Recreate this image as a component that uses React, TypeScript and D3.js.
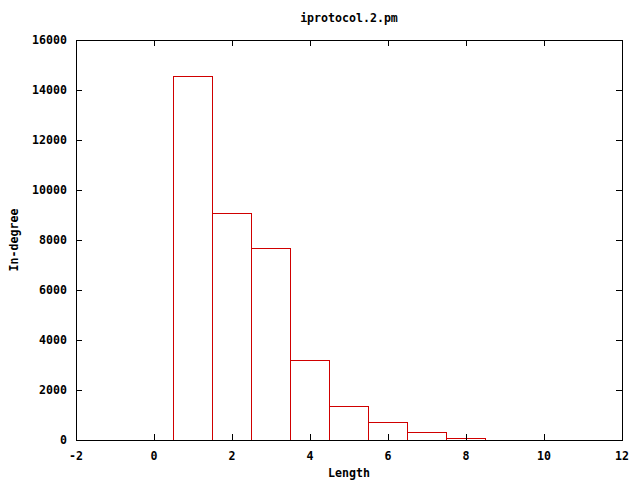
import React, { useEffect, useRef } from "react";
import * as d3 from "d3";

const lengths = [1, 2, 3, 4, 5, 6, 7, 8];
const inDegree = [14550, 9080, 7660, 3200, 1350, 690, 290, 80];
const xTicks = [-2, 0, 2, 4, 6, 8, 10, 12];
const yTicks = [0, 2000, 4000, 6000, 8000, 10000, 12000, 14000, 16000];

const WIDTH = 640;
const HEIGHT = 480;
const M = { left: 76, right: 18, top: 40, bottom: 40 };
const FONT = "'DejaVu Sans Mono', monospace";
const FS = 11.6;

const App: React.FC = () => {
  const ref = useRef<SVGSVGElement>(null);

  useEffect(() => {
    const container = ref.current;
    if (!container) return;
    const svg = d3.select(container);
    svg.selectAll("*").remove();

    const x = d3.scaleLinear().domain([-2, 12]).range([M.left, WIDTH - M.right]);
    const y = d3.scaleLinear().domain([0, 16000]).range([HEIGHT - M.bottom, M.top]);

    const g = svg.append("g");

    // bars (boxes of width 1 centred on each length)
    g.selectAll(".bar")
      .data(lengths)
      .enter()
      .append("rect")
      .attr("x", (d) => x(d - 0.5))
      .attr("y", (d, i) => y(inDegree[i]))
      .attr("width", (d) => x(d + 0.5) - x(d - 0.5))
      .attr("height", (d, i) => y(0) - y(inDegree[i]))
      .attr("fill", "none")
      .attr("stroke", "#d00000")
      .attr("stroke-width", 1);

    // ticks, inside and mirrored
    const tk = 6;
    yTicks.forEach((t) => {
      g.append("line").attr("x1", x(-2)).attr("x2", x(-2) + tk).attr("y1", y(t)).attr("y2", y(t)).attr("stroke", "#000");
      g.append("line").attr("x1", x(12)).attr("x2", x(12) - tk).attr("y1", y(t)).attr("y2", y(t)).attr("stroke", "#000");
      g.append("text")
        .attr("x", x(-2) - 9)
        .attr("y", y(t) + 4)
        .attr("text-anchor", "end")
        .text(t);
    });
    xTicks.forEach((t) => {
      g.append("line").attr("x1", x(t)).attr("x2", x(t)).attr("y1", y(0)).attr("y2", y(0) - tk).attr("stroke", "#000");
      g.append("line").attr("x1", x(t)).attr("x2", x(t)).attr("y1", y(16000)).attr("y2", y(16000) + tk).attr("stroke", "#000");
      g.append("text")
        .attr("x", x(t))
        .attr("y", y(0) + 20)
        .attr("text-anchor", "middle")
        .text(t);
    });

    // frame
    g.append("rect")
      .attr("x", x(-2))
      .attr("y", y(16000))
      .attr("width", x(12) - x(-2))
      .attr("height", y(0) - y(16000))
      .attr("fill", "none")
      .attr("stroke", "#000");

    g.selectAll("text")
      .attr("font-family", FONT)
      .attr("font-size", FS)
      .attr("font-weight", "bold");

    const label = (s: d3.Selection<SVGTextElement, unknown, null, undefined>) =>
      s.attr("font-family", FONT).attr("font-size", FS).attr("font-weight", "bold").attr("text-anchor", "middle");

    svg.append("text").attr("x", (x(-2) + x(12)) / 2).attr("y", 22).text("iprotocol.2.pm").call(label);
    svg.append("text").attr("x", (x(-2) + x(12)) / 2).attr("y", 477).text("Length").call(label);
    svg
      .append("text")
      .attr("transform", `translate(18, ${(y(0) + y(16000)) / 2}) rotate(-90)`)
      .text("In-degree")
      .call(label);
  }, []);

  return (
    <svg
      ref={ref}
      width={WIDTH}
      height={HEIGHT}
      style={{ position: "absolute", left: 0, top: 0, background: "#fff" }}
      shapeRendering="crispEdges"
    />
  );
};

export default App;
